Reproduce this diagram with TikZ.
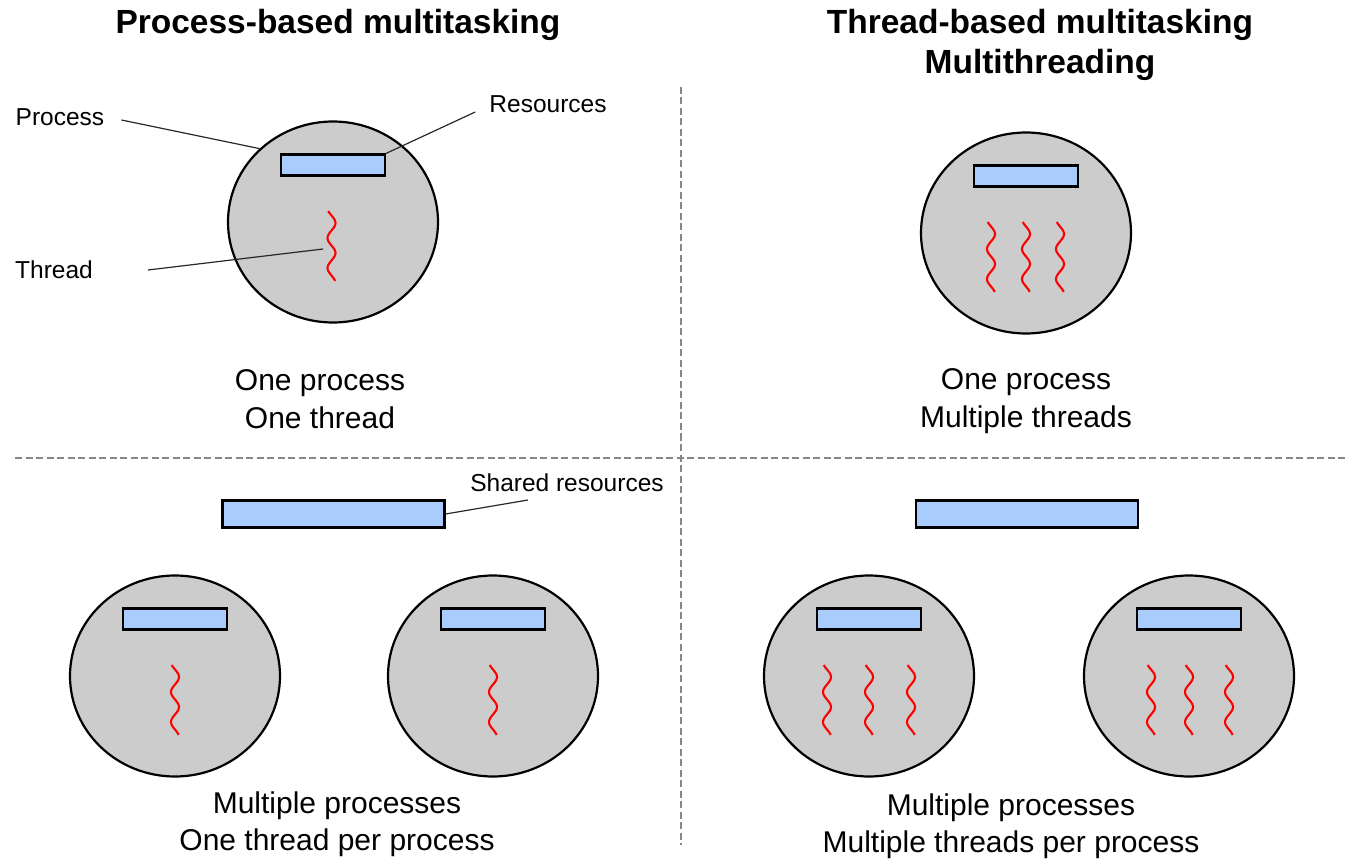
\documentclass[tikz,border=0pt]{standalone}
\usepackage{fontspec}
\setmainfont{Liberation Sans}
\usepackage{tikz}
\usetikzlibrary{calc,positioning,shapes.geometric}
\definecolor{procgray}{RGB}{204,204,204}
\definecolor{resblue}{RGB}{169,204,252}
\definecolor{sepgray}{RGB}{135,135,135}
\definecolor{leadgray}{RGB}{40,40,40}
\begin{document}
\begin{tikzpicture}[x=1pt, y=-1pt]
\tikzstyle{proc}=[ellipse, draw, fill=procgray, line width=2.2pt,
                        minimum width=210pt, minimum height=201pt, inner sep=0pt]
\tikzstyle{res}=[rectangle, draw, fill=resblue, line width=2.2pt,
                        minimum width=104pt, minimum height=21pt, inner sep=0pt]
\tikzstyle{shared}=[res, minimum width=222pt, minimum height=27pt]
\tikzstyle{thr}=[red, line width=2.1pt]
\tikzstyle{lead}=[leadgray, line width=1.2pt]
\tikzstyle{lbl}=[inner sep=0pt, font=\fontsize{24.5}{29}\selectfont]
\tikzstyle{capt}=[inner sep=0pt, align=center, font=\fontsize{30}{37.5}\selectfont]
\tikzstyle{ttl}=[inner sep=0pt, align=center, font=\bfseries\fontsize{33.5}{40}\selectfont]
\tikzstyle{sepline}=[sepgray, line width=2.2pt, dash pattern=on 7pt off 3.5pt]
\useasboundingbox (0,0) rectangle (1355,866);
% titles
\node[ttl] (tl) at (338,25) {Process-based multitasking};
\node[ttl] (tr) at (1040,45) {Thread-based multitasking\\Multithreading};
% separators
\coordinate (vt) at (681,87); \coordinate (vb) at (681,845);
\coordinate (hl) at (15,458); \coordinate (hr) at (1345,458);
\draw[sepline] (vt) -- (vb);
\draw[sepline] (hl) -- (hr);
% processes
\foreach \n/\x/\y in {p1/333/222, p2/1026/233, p3/175/676, p4/493/676, p5/869/676, p6/1189/676}{
  \node[proc] (\n) at (\x,\y) {};
  \node[res] (r\n) at (\x,\y-57) {};
}
\node[shared] (s1) at (333.5,514) {};
\node[shared] (s2) at (1027,514) {};
% threads
\foreach \p/\dx in {p1/-1.5, p2/-35, p2/0, p2/34, p3/0, p4/0, p5/-42, p5/0, p5/42, p6/-38, p6/0, p6/40}{
  \draw[thr, shift={(\p.center)}] plot[domain=-11:59, samples=50, smooth, variable=\t]
    ({\dx+4*cos(12*(\t-1))}, \t);
}
% labels
\node[lbl] (plbl) at (60,117) {Process};
\node[lbl] (rlbl) at (548,104) {Resources};
\node[lbl] (tlbl) at (54,270) {Thread};
\node[lbl] (slbl) at (567,483) {Shared resources};
\coordinate (t1) at (323,249);
\coordinate (sl) at (528,500);
\draw[lead] ([xshift=17pt,yshift=-3pt]plbl.east) -- (p1.135);
\draw[lead] ([xshift=-14pt,yshift=-8pt]rlbl.west) -- (rp1.north east);
\draw[lead] ([xshift=55pt]tlbl.east) -- (t1);
\draw[lead] (s1.east) -- (sl);
% captions
\node[capt] (c1) at (320,399) {One process\\One thread};
\node[capt] (c2) at (1026,401) {One process\\Multiple threads};
\node[capt] (c3) at (337,824) {Multiple processes\\One thread per process};
\node[capt] (c4) at (1011,826) {Multiple processes\\Multiple threads per process};
\end{tikzpicture}
\end{document}
